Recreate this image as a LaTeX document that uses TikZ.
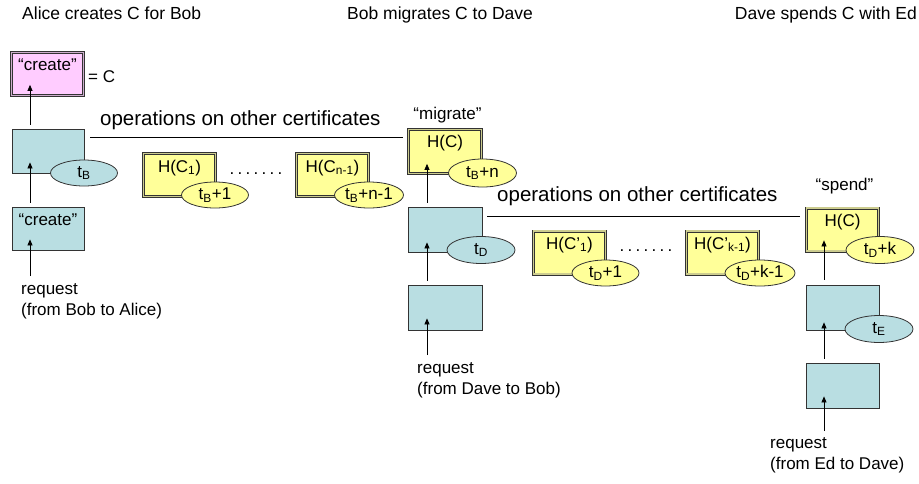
\documentclass[tikz,border=0pt]{standalone}
\usepackage{fontspec}
\setmainfont{Liberation Sans}
\usetikzlibrary{shapes.geometric,arrows.meta,calc}
\definecolor{cyanfill}{HTML}{B9DEE2}
\definecolor{yelfill}{HTML}{FFFF99}
\definecolor{pinkfill}{HTML}{FFCCFF}
\definecolor{edgec}{HTML}{333333}
\begin{document}
\begin{tikzpicture}[x=1pt,y=-1pt,
  font=\fontsize{17}{21}\selectfont,
  cbox/.style={draw=edgec, line width=0.8pt, fill=cyanfill, minimum width=72pt, minimum height=44pt, inner sep=0pt},
  ybox/.style={draw=edgec, line width=0.7pt, double=yelfill!60!gray, double distance=1.6pt, fill=yelfill, minimum width=72pt, minimum height=43pt, inner sep=0pt},
  pbox/.style={draw=edgec, line width=0.7pt, double=pinkfill!60!gray, double distance=1.6pt, fill=pinkfill, minimum width=72pt, minimum height=43pt, inner sep=0pt},
  tag/.style={ellipse, draw=edgec, line width=0.8pt, minimum width=67pt, minimum height=26pt, inner sep=0pt},
  ytag/.style={tag, fill=yelfill},
  ctag/.style={tag, fill=cyanfill},
  arr/.style={-{Triangle[length=6pt,width=5pt]}, line width=0.7pt, draw=black},
  lbl/.style={inner sep=0pt, anchor=base},
  lblw/.style={inner sep=0pt, anchor=base west},
  hdr/.style={inner sep=0pt, anchor=base west, font=\fontsize{17.5}{21}\selectfont},
  ops/.style={inner sep=0pt, anchor=base west, font=\fontsize{20.5}{24}\selectfont},
  req/.style={inner sep=0pt, anchor=north west, align=left},
  sep/.style={line width=0.7pt, draw=black}
]
\useasboundingbox (0,0) rectangle (919,483);

% headers
\node[hdr] (h1) at (22,19) {Alice creates C for Bob};
\node[hdr] (h2) at (347,19) {Bob migrates C to Dave};
\node[hdr, anchor=base east] (h3) at (917,19) {Dave spends C with Ed};

% ---------- column 1 ----------
\node[pbox] (pink) at (47.5,74) {};
\node[lbl] (pinkt) at (47.5,70) {“create”};
\node[lblw] (eqc) at (88,82) {= C};
\node[cbox] (c1) at (48,151) {};
\node[cbox, minimum height=43pt] (c1b) at (48,228.5) {};
\node[lbl] (c1bt) at (48,225) {“create”};
\node[ctag] (tb) at (84,173) {t\textsubscript{B}};
\node[req] (r1) at (21,283) {request\\(from Bob to Alice)};
\coordinate (r1a) at (30,276);

\draw[arr] ([xshift=-18pt,yshift=4pt]c1.north) -- ([xshift=-17.5pt,yshift=11pt]pink.south);
\draw[arr] ([xshift=-18pt,yshift=4pt]c1b.north) -- ([xshift=-18pt,yshift=11pt]c1.south);
\draw[arr] (r1a) -- ([xshift=-18pt,yshift=11pt]c1b.south);

% operations line 1
\node[ops] (ops1) at (100,125) {operations on other certificates};
\coordinate (l1a) at (90,137);
\coordinate (l1b) at (403,137);
\draw[sep] (l1a) -- (l1b);

\node[ybox] (y1) at (179.5,175) {};
\node[lbl] (y1t) at (179.5,172) {H(C\textsubscript{1})};
\node[ytag] (e1) at (215,195) {t\textsubscript{B}+1};
\node[lbl] (dots1) at (256,174) {.\hspace{3.3pt}.\hspace{3.3pt}.\hspace{3.3pt}.\hspace{3.3pt}.\hspace{3.3pt}.\hspace{3.3pt}.};
\node[ybox] (y2) at (332.5,175) {};
\node[lbl] (y2t) at (332.5,172) {H(C\textsubscript{n-1})};
\node[ytag, minimum width=69pt] (e2) at (369,195) {t\textsubscript{B}+n-1};

% ---------- column 2 ----------
\node[lbl] (migl) at (447.5,119) {“migrate”};
\node[ybox, minimum width=73pt, minimum height=44pt] (ym) at (445,151.5) {};
\node[lbl] (ymt) at (445,147) {H(C)};
\node[cbox, minimum width=74pt, minimum height=45pt] (c2) at (445,229.5) {};
\node[cbox, minimum width=74pt, minimum height=45pt] (c2b) at (445,307.5) {};
\node[ytag, minimum width=68pt, minimum height=28pt] (e3) at (482.5,173) {t\textsubscript{B}+n};
\node[ctag, minimum width=68pt, minimum height=27pt] (td) at (481,250) {t\textsubscript{D}};
\node[req] (r2) at (417,362) {request\\(from Dave to Bob)};
\coordinate (r2a) at (427,355);

\draw[arr] ([xshift=-18pt,yshift=4pt]c2.north) -- ([xshift=-18pt,yshift=10pt]ym.south);
\draw[arr] ([xshift=-18pt,yshift=4pt]c2b.north) -- ([xshift=-18pt,yshift=10pt]c2.south);
\draw[arr] (r2a) -- ([xshift=-18pt,yshift=12pt]c2b.south);

% operations line 2
\node[ops] (ops2) at (497,201) {operations on other certificates};
\coordinate (l2a) at (487,216);
\coordinate (l2b) at (800,216);
\draw[sep] (l2a) -- (l2b);

\node[ybox] (y3) at (569.5,252.5) {};
\node[lbl] (y3t) at (569.5,249) {H(C’\textsubscript{1})};
\node[ytag] (e4) at (605.5,273) {t\textsubscript{D}+1};
\node[lbl] (dots2) at (646,251) {.\hspace{3.3pt}.\hspace{3.3pt}.\hspace{3.3pt}.\hspace{3.3pt}.\hspace{3.3pt}.\hspace{3.3pt}.};
\node[ybox] (y4) at (722.5,252.5) {};
\node[lbl] (y4t) at (722.5,249) {H(C’\textsubscript{k-1})};
\node[ytag, minimum width=70pt] (e5) at (760,273) {t\textsubscript{D}+k-1};

% ---------- column 3 ----------
\node[lbl] (spl) at (844.5,190) {“spend”};
\node[ybox] (ys) at (842.5,229.5) {};
\node[lbl] (yst) at (842.5,226) {H(C)};
\node[cbox, minimum width=73pt, minimum height=45pt] (c3) at (842.5,307.5) {};
\node[cbox, minimum width=73pt, minimum height=45pt] (c3b) at (842.5,385.5) {};
\node[ytag, minimum width=68pt, minimum height=27pt] (e6) at (880,250) {t\textsubscript{D}+k};
\node[ctag, minimum width=68pt, minimum height=27pt] (te) at (879,329) {t\textsubscript{E}};
\node[req] (r3) at (770,437) {request\\(from Ed to Dave)};
\coordinate (r3a) at (824,431);

\draw[arr] ([xshift=-18.5pt,yshift=5pt]c3.north) -- ([xshift=-18.5pt,yshift=11pt]ys.south);
\draw[arr] ([xshift=-18.5pt,yshift=4pt]c3b.north) -- ([xshift=-18.5pt,yshift=8pt]c3.south);
\draw[arr] (r3a) -- ([xshift=-18.5pt,yshift=12pt]c3b.south);
\end{tikzpicture}
\end{document}
